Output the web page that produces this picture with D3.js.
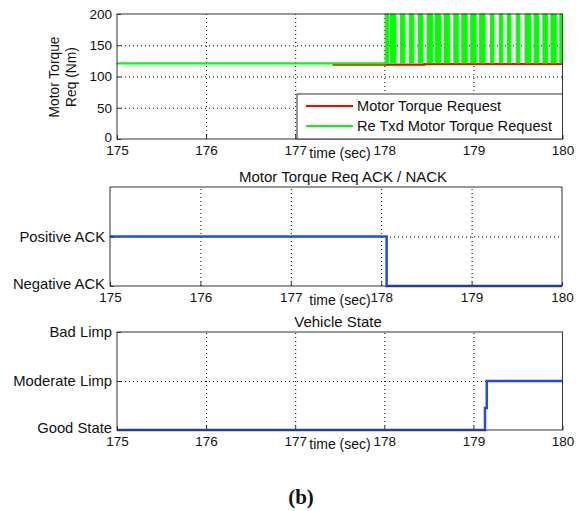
<!DOCTYPE html>
<html>
<head>
<meta charset="utf-8">
<script src="https://cdn.jsdelivr.net/npm/d3@7"></script>
<style>
  body { margin: 0; background: #fff; }
  svg text { font-family: "Liberation Sans", Arial, sans-serif; fill: #111; }
</style>
</head>
<body>
<svg id="chart" width="580" height="511"></svg>
<script>
// x ticks shared by all three panels
const xTicks = [175, 176, 177, 178, 179, 180];

// panel 1 : motor torque request (Nm)
const torqueTicks = [0, 50, 100, 150, 200];
const reqTime = [177.42, 178.45, 178.45, 180];
const reqVal = [119, 119, 120, 120];
const txdTime = [175, 178.01];
const txdVal = [121, 121];
const pulseStart = [178.01, 178.07, 178.18, 178.28, 178.38, 178.48, 178.57, 178.67, 178.78, 178.87, 178.97,
  179.07, 179.19, 179.29, 179.38, 179.48, 179.58, 179.68, 179.78, 179.87, 179.97];
const pulseEnd = [178.05, 178.13, 178.23, 178.33, 178.43, 178.54, 178.63, 178.73, 178.83, 178.93, 179.03,
  179.13, 179.23, 179.33, 179.42, 179.52, 179.64, 179.73, 179.83, 179.93, 180.0];
const pulseLow = 121;
const pulseHigh = 200;
const legendNames = ["Motor Torque Request", "Re Txd Motor Torque Request"];

// panel 2 : ACK / NACK
const ackLabels = ["Negative ACK", "Positive ACK"];
const ackTime = [175, 178.06, 178.06, 180];
const ackVal = [1, 1, 0, 0];

// panel 3 : vehicle state
const stateLabels = ["Good State", "Moderate Limp", "Bad Limp"];
const stateTime = [175, 179.13, 179.13, 179.15, 179.15, 180];
const stateVal = [0, 0, 0.45, 0.45, 1, 1];

const svg = d3.select("#chart");
const blue = "#1f4cf0";

function panel(box, yDomain, yTicks, yFormat, title, titleX) {
  const x = d3.scaleLinear().domain([175, 180]).range([box.left, box.right]);
  const y = d3.scaleLinear().domain(yDomain).range([box.bottom, box.top]);
  const g = svg.append("g");
  const h = box.bottom - box.top;
  const w = box.right - box.left;

  g.append("rect")
    .attr("x", box.left).attr("y", box.top)
    .attr("width", w).attr("height", h)
    .attr("fill", "#fff");

  // grid
  g.append("g")
    .attr("transform", `translate(0,${box.bottom})`)
    .call(d3.axisBottom(x).tickValues(xTicks.slice(1, -1)).tickSize(-h).tickFormat(""))
    .call((a) => a.select(".domain").remove())
    .selectAll("line").attr("stroke", "#000").attr("stroke-dasharray", "1,3");
  g.append("g")
    .attr("transform", `translate(${box.left},0)`)
    .call(d3.axisLeft(y).tickValues(yTicks.filter((t) => t > yDomain[0] && t < yDomain[1])).tickSize(-w).tickFormat(""))
    .call((a) => a.select(".domain").remove())
    .selectAll("line").attr("stroke", "#000").attr("stroke-dasharray", "1,3");

  const plot = g.append("g");

  // axes box + labels
  g.append("rect")
    .attr("x", box.left).attr("y", box.top)
    .attr("width", w).attr("height", h)
    .attr("fill", "none").attr("stroke", "#333").attr("stroke-width", 1);

  const xa = g.append("g")
    .attr("transform", `translate(0,${box.bottom})`)
    .call(d3.axisBottom(x).tickValues(xTicks).tickSize(-4).tickPadding(6).tickFormat(d3.format("d")));
  xa.select(".domain").remove();
  xa.selectAll("line").attr("stroke", "#333");
  xa.selectAll("text").style("font-size", "13.5px").attr("fill", "#111");

  const ya = g.append("g")
    .attr("transform", `translate(${box.left},0)`)
    .call(d3.axisLeft(y).tickValues(yTicks).tickSize(-4).tickPadding(5).tickFormat(yFormat));
  ya.select(".domain").remove();
  ya.selectAll("line").attr("stroke", "#333");
  ya.selectAll("text")
    .style("font-size", yFormat === null ? "13.5px" : "14.8px")
    .attr("dy", (d, i) => (i === 0 ? "0.15em" : "0.32em"))
    .attr("fill", "#111");

  g.append("text")
    .attr("x", 340).attr("y", box.bottom + 19)
    .attr("text-anchor", "middle")
    .style("font-size", "14px")
    .text("time (sec)");

  if (title) {
    g.append("text")
      .attr("x", titleX).attr("y", box.top - 5)
      .attr("text-anchor", "middle")
      .style("font-size", "15px")
      .text(title);
  }
  return { x, y, g, plot };
}

const line = (x, y) => d3.line().x((d) => x(d[0])).y((d) => y(d[1]));

// ---- panel 1
const p1 = panel({ left: 117, right: 562.5, top: 14, bottom: 139 }, [0, 200], torqueTicks, null, null);
{
  const { x, y, plot } = p1;
  const l = line(x, y);
  plot.append("path")
    .attr("d", l(d3.zip(reqTime, reqVal)))
    .attr("fill", "none").attr("stroke", "#ff0000").attr("stroke-width", 2.2);
  plot.append("path")
    .attr("d", l(d3.zip(txdTime, txdVal)))
    .attr("fill", "none").attr("stroke", "#00ff00").attr("stroke-width", 2.2);
  plot.selectAll(null)
    .data(d3.zip(pulseStart, pulseEnd))
    .enter()
    .append("path")
    .attr("d", (d) => l([[d[0], pulseLow], [d[0], pulseHigh], [d[1], pulseHigh], [d[1], pulseLow]]))
    .attr("fill", "#00ff00").attr("stroke", "#00ff00").attr("stroke-width", 1);

  svg.append("text")
    .attr("transform", "translate(59,77) rotate(-90)")
    .attr("text-anchor", "middle")
    .style("font-size", "13.8px")
    .text("Motor Torque");
  svg.append("text")
    .attr("transform", "translate(76,77) rotate(-90)")
    .attr("text-anchor", "middle")
    .style("font-size", "13.8px")
    .text("Req (Nm)");

  // legend
  const lg = svg.append("g").attr("transform", "translate(297,94)");
  lg.append("rect")
    .attr("width", 265.5).attr("height", 45)
    .attr("fill", "#fff").attr("stroke", "#333");
  const colors = ["#ff0000", "#00ff00"];
  lg.selectAll(null).data(legendNames).enter()
    .append("line")
    .attr("x1", 9).attr("x2", 56)
    .attr("y1", (d, i) => 12 + i * 20).attr("y2", (d, i) => 12 + i * 20)
    .attr("stroke", (d, i) => colors[i]).attr("stroke-width", 2.2);
  lg.selectAll(null).data(legendNames).enter()
    .append("text")
    .attr("x", 60)
    .attr("y", (d, i) => 17 + i * 20)
    .style("font-size", "14.6px")
    .text((d) => d);
}

// ---- panel 2
const p2 = panel({ left: 110, right: 562, top: 187, bottom: 286 }, [0, 2], [0, 1], (d) => ackLabels[d], "Motor Torque Req ACK / NACK", 343);
{
  const { x, y, plot } = p2;
  plot.append("path")
    .attr("d", line(x, y)(d3.zip(ackTime, ackVal)))
    .attr("fill", "none").attr("stroke", blue).attr("stroke-width", 2.5);
}

// ---- panel 3
const p3 = panel({ left: 117, right: 562.5, top: 332, bottom: 430 }, [0, 2], [0, 1, 2], (d) => stateLabels[d], "Vehicle State", 338);
{
  const { x, y, plot } = p3;
  plot.append("path")
    .attr("d", line(x, y)(d3.zip(stateTime, stateVal)))
    .attr("fill", "none").attr("stroke", blue).attr("stroke-width", 2.5);
}

svg.append("text")
  .attr("x", 301).attr("y", 504)
  .attr("text-anchor", "middle")
  .style("font-family", "'Liberation Serif', 'Times New Roman', serif")
  .style("font-weight", "bold")
  .style("font-size", "21px")
  .text("(b)");
</script>
</body>
</html>
